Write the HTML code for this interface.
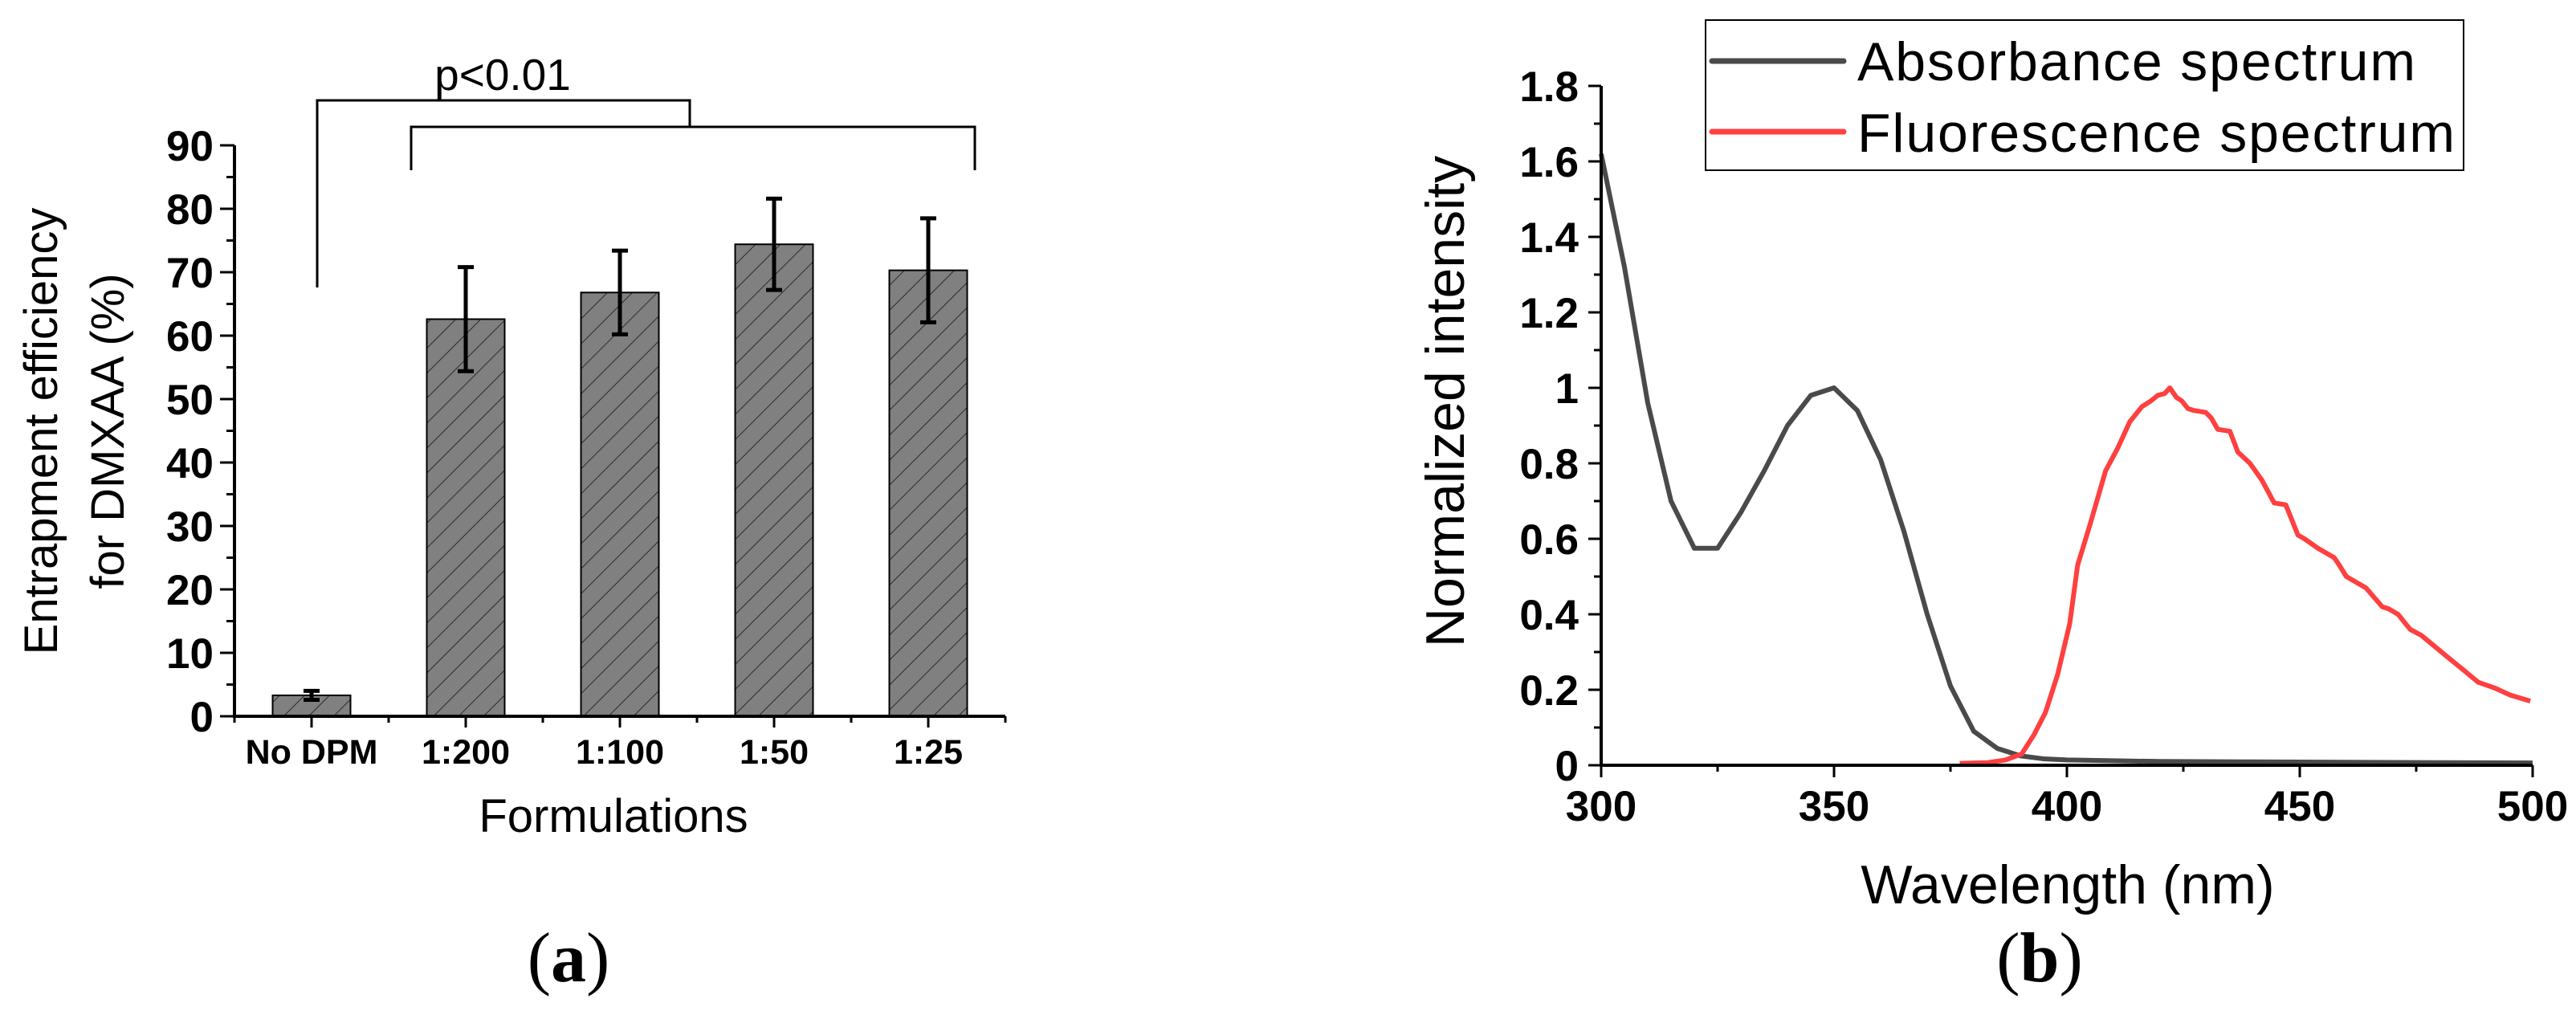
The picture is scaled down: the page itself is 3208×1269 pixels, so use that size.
<!DOCTYPE html>
<html><head><meta charset="utf-8"><style>
html,body{margin:0;padding:0;background:#fff;}
svg{display:block;font-family:"Liberation Sans",Arial,sans-serif;}
</style></head><body>
<svg id="fig" width="3208" height="1269" viewBox="0 0 3208 1269" xmlns="http://www.w3.org/2000/svg">
<defs>
<pattern id="hatch" patternUnits="userSpaceOnUse" width="22" height="22" patternTransform="rotate(45)">
<rect width="22" height="22" fill="#808080"/>
<line x1="0" y1="0" x2="0" y2="22" stroke="#2a2a2a" stroke-width="2"/>
</pattern>
</defs>
<g id="chartA"></g>
<g id="chartB"></g>
</svg>
<script>
// ---- Chart A data ----
const categories = ["No DPM", "1:200", "1:100", "1:50", "1:25"];
const efficiency = [3.3, 62.6, 66.8, 74.4, 70.3];
const errors = [0.7, 8.2, 6.6, 7.2, 8.2];
const yTicksA = [0, 10, 20, 30, 40, 50, 60, 70, 80, 90];

// ---- Chart B data ----
const absWl = [300,305,310,315,320,325,330,335,340,345,350,355,360,365,370,375,380,385,390,395,400,410,420,440,460,480,500];
const absVal = [1.62,1.32,0.96,0.70,0.575,0.575,0.67,0.78,0.90,0.98,1.0,0.94,0.81,0.62,0.40,0.21,0.09,0.045,0.025,0.017,0.014,0.012,0.010,0.009,0.008,0.007,0.006];
const flWl = [377,383,386.8,390.3,392.9,395.4,398,400.6,402.3,404.9,408.3,410.9,413.5,416.1,418,419.5,421,422.1,423.5,424.7,426,427.3,429.8,431,432.4,435,436.7,439.3,441.9,444.5,447,449.6,451,453.9,457.4,458.5,460,464.2,467.7,469,471.1,473.7,476,478,481.4,484.9,488.3,491.8,495.2,499.5];
const flVal = [0.005,0.007,0.014,0.03,0.08,0.14,0.24,0.375,0.53,0.635,0.78,0.84,0.91,0.95,0.965,0.98,0.985,1.0,0.975,0.965,0.945,0.94,0.935,0.92,0.89,0.885,0.83,0.80,0.755,0.695,0.69,0.61,0.60,0.575,0.55,0.53,0.50,0.47,0.42,0.415,0.40,0.36,0.345,0.325,0.29,0.255,0.22,0.205,0.186,0.17];
const xTicksB = [300, 350, 400, 450, 500];
const yTicksB = [0, 0.2, 0.4, 0.6, 0.8, 1, 1.2, 1.4, 1.6, 1.8];
const yTickLabelsB = ["0","0.2","0.4","0.6","0.8","1","1.2","1.4","1.6","1.8"];

const NS = "http://www.w3.org/2000/svg";
function mk(parent, tag, attrs, text) {
  const el = document.createElementNS(NS, tag);
  for (const k in attrs) el.setAttribute(k, attrs[k]);
  if (text !== undefined) el.textContent = text;
  parent.appendChild(el);
  return el;
}

// ================= Chart A =================
const gA = document.getElementById("chartA");
const A = {x0: 292, y0: 892, step: 192, yTop: 181};
const yA = v => A.y0 - v * (A.y0 - A.yTop) / 90;
const xA = i => A.x0 + (i + 0.5) * A.step;
const barW = 97;

categories.forEach((c, i) => {
  const b = mk(gA, "rect", {x: xA(i) - barW/2, y: yA(efficiency[i]), width: barW, height: yA(0) - yA(efficiency[i]), fill: "url(#hatch)", stroke: "#000", "stroke-width": 2});
  
  
  const hi = yA(efficiency[i] + errors[i]), lo = yA(efficiency[i] - errors[i]);
  const e = mk(gA, "path", {d: `M${xA(i)},${hi}V${lo}M${xA(i)-10},${hi}H${xA(i)+10}M${xA(i)-10},${lo}H${xA(i)+10}`, stroke: "#000", "stroke-width": 5, fill: "none"});
  
  
  const t = mk(gA, "text", {x: xA(i), y: 951, "font-size": 43, "font-weight": "bold", "text-anchor": "middle"}, c);
  
  
});
let ax = mk(gA, "path", {d: `M${A.x0},${A.yTop}V${A.y0}H${A.x0 + 5*A.step}`, stroke: "#000", "stroke-width": 4, fill: "none"});


let tk = "";
yTicksA.forEach(v => { tk += `M${A.x0-18},${yA(v)}H${A.x0}`; });
for (let v = 5; v < 90; v += 10) tk += `M${A.x0-10},${yA(v)}H${A.x0}`;
for (let i = 0; i < 5; i++) tk += `M${xA(i)},${A.y0}v14`;
for (let i = 0; i <= 5; i++) tk += `M${A.x0 + i*A.step},${A.y0}v8`;
mk(gA, "path", {d: tk, stroke: "#000", "stroke-width": 3, fill: "none"});
yTicksA.forEach(v => {
  const t = mk(gA, "text", {x: 266, y: yA(v) + 19, "font-size": 53, "font-weight": "bold", "text-anchor": "end"}, String(v));
  
  
});
let tt = mk(gA, "text", {x: 764, y: 1036, "font-size": 58, "text-anchor": "middle"}, "Formulations");


tt = mk(gA, "text", {transform: "translate(71,537) rotate(-90)", "font-size": 58, "text-anchor": "middle"}, "Entrapment efficiency");


tt = mk(gA, "text", {transform: "translate(154,537) rotate(-90)", "font-size": 58, "text-anchor": "middle"}, "for DMXAA (%)");


let br = mk(gA, "path", {d: `M${xA(0)+7},358V125H859V158M512,212V158H1214V212`, stroke: "#000", "stroke-width": 3, fill: "none"});


tt = mk(gA, "text", {x: 626, y: 112, "font-size": 55, "text-anchor": "middle"}, "p<0.01");


tt = mk(gA, "text", {x: 708, y: 1222, "font-size": 88, "text-anchor": "middle", "font-family": "Liberation Serif, serif"}, "");
tt.innerHTML = '(<tspan font-weight="bold">a</tspan>)';



// ================= Chart B =================
const gB = document.getElementById("chartB");
const B = {x0: 1994, x1: 3154, y0: 953, yTop: 107};
const xB = w => B.x0 + (w - 300) * (B.x1 - B.x0) / 200;
const yB = v => B.y0 - v * (B.y0 - B.yTop) / 1.8;

let lineAbs = mk(gB, "polyline", {points: absWl.map((w,i) => xB(w)+","+yB(absVal[i])).join(" "), fill: "none", stroke: "#4a4a4a", "stroke-width": 6, "stroke-linejoin": "round"});


let lineFl = mk(gB, "polyline", {points: flWl.map((w,i) => xB(w)+","+yB(flVal[i])).join(" "), fill: "none", stroke: "#ff4040", "stroke-width": 6, "stroke-linejoin": "round"});



ax = mk(gB, "path", {d: `M${B.x0},${B.yTop}V${B.y0}H${B.x1}`, stroke: "#000", "stroke-width": 4, fill: "none"});


tk = "";
yTicksB.forEach(v => { tk += `M${B.x0-16},${yB(v)}H${B.x0}`; });
for (let v = 0.1; v < 1.8; v += 0.2) tk += `M${B.x0-9},${yB(v)}H${B.x0}`;
xTicksB.forEach(w => { tk += `M${xB(w)},${B.y0}v15`; });
for (let w = 325; w < 500; w += 50) tk += `M${xB(w)},${B.y0}v8`;
mk(gB, "path", {d: tk, stroke: "#000", "stroke-width": 3, fill: "none"});
yTicksB.forEach((v, i) => {
  const t = mk(gB, "text", {x: 1966, y: yB(v) + 19, "font-size": 53, "font-weight": "bold", "text-anchor": "end"}, yTickLabelsB[i]);
  
  
});
xTicksB.forEach(w => {
  const t = mk(gB, "text", {x: xB(w), y: 1022, "font-size": 53, "font-weight": "bold", "text-anchor": "middle"}, String(w));
  
  
});
tt = mk(gB, "text", {x: 2575, y: 1125, "font-size": 68, "text-anchor": "middle"}, "Wavelength (nm)");


tt = mk(gB, "text", {transform: "translate(1823,500) rotate(-90)", "font-size": 68, "text-anchor": "middle"}, "Normalized intensity");


const lg = mk(gB, "g", {});


mk(lg, "rect", {x: 2124, y: 25, width: 944, height: 187, fill: "#fff", stroke: "#000", "stroke-width": 2});
let le = mk(lg, "line", {x1: 2132, y1: 76, x2: 2296, y2: 76, stroke: "#4a4a4a", "stroke-width": 7, "stroke-linecap": "round"});


le = mk(lg, "text", {x: 2313, y: 100, "font-size": 68, textLength: 695}, "Absorbance spectrum");


le = mk(lg, "line", {x1: 2132, y1: 164, x2: 2296, y2: 164, stroke: "#ff4040", "stroke-width": 7, "stroke-linecap": "round"});


le = mk(lg, "text", {x: 2313, y: 189, "font-size": 68, textLength: 744}, "Fluorescence spectrum");


tt = mk(gB, "text", {x: 2540, y: 1222, "font-size": 88, "text-anchor": "middle", "font-family": "Liberation Serif, serif"}, "");
tt.innerHTML = '(<tspan font-weight="bold">b</tspan>)';


</script>
</body></html>
